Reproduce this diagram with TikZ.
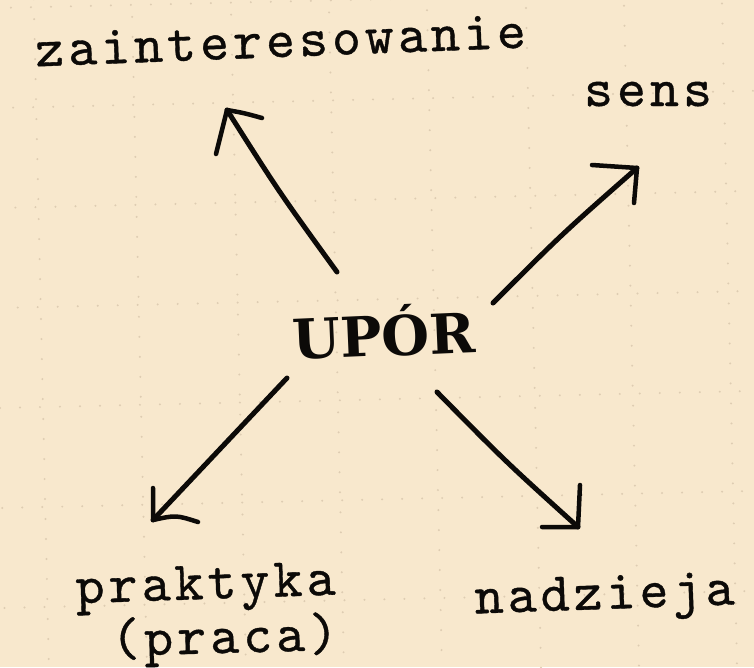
\documentclass[tikz,border=0pt]{standalone}
\usepackage{fontspec}
\newfontfamily\labelfont{lmmono10-regular.otf}[LetterSpace=7.5,FakeBold=0.7]
\newfontfamily\titlefont{DejaVu Serif}
\definecolor{paper}{RGB}{248,232,205}
\definecolor{speck}{RGB}{222,204,178}
\definecolor{ink}{RGB}{12,10,8}
\tikzset{
  lbl/.style={font=\labelfont\fontsize{55}{60}\selectfont, inner sep=0pt, anchor=base, text=ink},
  ttl/.style={font=\titlefont\bfseries\fontsize{55}{62}\selectfont, inner sep=0pt, anchor=base, text=ink},
  stroke/.style={draw=ink, line width=5pt, line cap=round, line join=round},
  barb/.style={draw=ink, line width=4.5pt, line cap=round, line join=round},
  speckdot/.style={fill=speck},
}
\begin{document}
\begin{tikzpicture}[x=1pt,y=-1pt]
\fill[paper] (0,0) rectangle (754,667);
\useasboundingbox (0,0) rectangle (754,667);
% faint dotted grid of the paper
\begin{scope}[rotate around={1.3:(0,408)}]
  \foreach \r in {-92,8,108,208,308,408,508,608,708} {
    \foreach \c in {0,20,...,780} { \fill[speckdot] (\c,\r) circle (1.1); }
  }
  \foreach \c in {43,141,240,338,436,535,633,731} {
    \foreach \r in {-20,0,...,700} { \fill[speckdot] (\c,\r) circle (1.1); }
  }
\end{scope}
% nodes
\node[ttl, rotate=2.5] (upor) at (385,356) {UPÓR};
\node[lbl, rotate=2.2] (zain) at (281,57) {zainteresowanie};
\node[lbl] (sens) at (648,106) {sens};
\node[lbl, rotate=1.9] (prak) at (206,599) {praktyka};
\node[lbl, rotate=1.5] (praca) at (225,653) {(praca)};
\node[lbl, rotate=2] (nadz) at (605,609) {nadzieja};
% connector ends
\coordinate (a1s) at (337,272); \coordinate (a1t) at (227,110);
\coordinate (a2s) at (493,303); \coordinate (a2t) at (637,168);
\coordinate (a3s) at (287,378); \coordinate (a3t) at (153,520);
\coordinate (a4s) at (437,392); \coordinate (a4t) at (578,527);
% shafts
\draw[stroke] (a1s) .. controls (279,192) .. (a1t);
\draw[stroke] (a2s) .. controls (563,233) .. (a2t);
\draw[stroke] (a3s) -- (a3t);
\draw[stroke] (a4s) .. controls (506,462) .. (a4t);
% heads
\draw[barb] (262,118) .. controls (244,113) .. (a1t) -- (216,154);
\draw[barb] (592,165) .. controls (615,167) .. (a2t) -- (634,203);
\draw[barb] (153,488) -- (a3t) .. controls (176,515) .. (198,522);
\draw[barb] (542,527) -- (a4t) -- (580,485);
\end{tikzpicture}
\end{document}
